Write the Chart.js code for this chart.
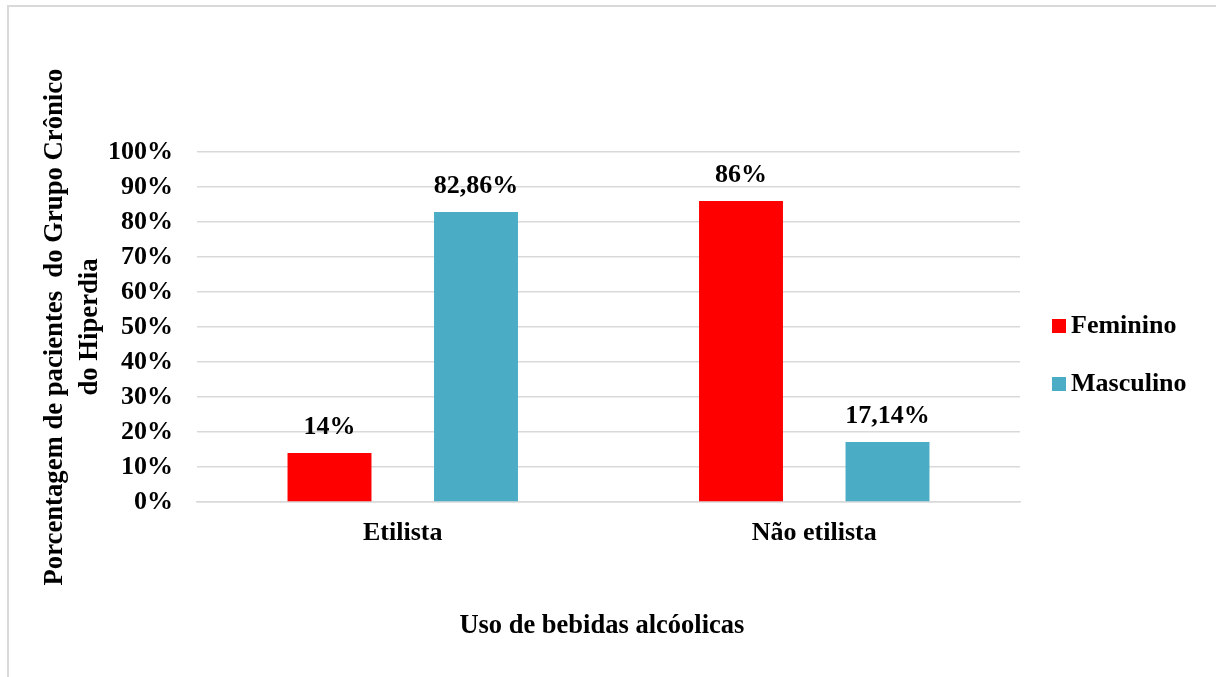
<!DOCTYPE html>
<html>
<head>
<meta charset="utf-8">
<script src="https://cdn.jsdelivr.net/npm/chart.js@4.4.1/dist/chart.umd.min.js"></script>
<style>
  html, body { margin: 0; padding: 0; background: #fff; overflow: hidden; }
  #frame { position: absolute; left: 7px; top: 5px; width: 1400px; height: 900px; border: 2px solid #d9d9d9; box-sizing: border-box; }
  #wrap { position: absolute; left: 0; top: 0; width: 1216px; height: 677px; }
</style>
</head>
<body>
<div id="frame"></div>
<div id="wrap"><canvas id="c" width="1216" height="677"></canvas></div>
<script>
// Categories, series and axis ticks
const categories = ['Etilista', 'Não etilista'];
const feminino = [14, 86];
const masculino = [82.86, 17.14];
const yTicks = [0, 10, 20, 30, 40, 50, 60, 70, 80, 90, 100];
const seriesNames = ['Feminino', 'Masculino'];
const seriesColors = ['#ff0000', '#4bacc6'];
const yTitle = ['Porcentagem de pacientes  do Grupo Crônico', 'do Hiperdia'];
const xTitle = 'Uso de bebidas alcóolicas  ';

const FONT = "'Liberation Serif', 'Times New Roman', serif";
const fmt = v => String(v).replace('.', ',') + '%';

// value labels above each bar
const valueLabels = {
  id: 'valueLabels',
  afterDatasetsDraw(chart) {
    const ctx = chart.ctx;
    ctx.save();
    ctx.font = 'bold 26px ' + FONT;
    ctx.fillStyle = '#000';
    ctx.textAlign = 'center';
    ctx.textBaseline = 'middle';
    chart.data.datasets.forEach((ds, i) => {
      chart.getDatasetMeta(i).data.forEach((bar, j) => {
        ctx.fillText(fmt(ds.data[j]), bar.x, bar.y - 26);
      });
    });
    ctx.restore();
  }
};

// legend on the right side
const sideLegend = {
  id: 'sideLegend',
  afterDraw(chart) {
    const ctx = chart.ctx;
    ctx.save();
    ctx.font = 'bold 26px ' + FONT;
    ctx.textBaseline = 'middle';
    ctx.textAlign = 'left';
    const x0 = chart.chartArea.right + 32;
    const ys = [326, 384];
    chart.data.datasets.forEach((ds, i) => {
      ctx.fillStyle = ds.backgroundColor;
      ctx.fillRect(x0, ys[i] - 7, 14, 14);
      ctx.fillStyle = '#000';
      ctx.fillText(ds.label, x0 + 19, ys[i]);
    });
    ctx.restore();
  }
};

new Chart(document.getElementById('c'), {
  type: 'bar',
  data: {
    labels: categories,
    datasets: [
      { label: seriesNames[0], data: feminino, backgroundColor: seriesColors[0] },
      { label: seriesNames[1], data: masculino, backgroundColor: seriesColors[1] }
    ]
  },
  options: {
    responsive: false,
    animation: false,
    devicePixelRatio: 1,
    categoryPercentage: 0.712,
    barPercentage: 0.573,
    layout: { padding: { top: 152, right: 196, bottom: 0, left: 0 } },
    plugins: {
      legend: { display: false },
      tooltip: { enabled: false }
    },
    scales: {
      x: {
        grid: { display: false, drawTicks: false },
        border: { display: true, color: '#d9d9d9', width: 1.5 },
        ticks: { color: '#000', font: { family: FONT, size: 26, weight: 'bold' }, padding: 16 },
        title: {
          display: true, text: xTitle, color: '#000',
          font: { family: FONT, size: 26.5, weight: 'bold', lineHeight: 1.2 },
          padding: { top: 0, bottom: 35 }
        },
        afterFit(s) { s.height = 175; }
      },
      y: {
        min: 0, max: 100,
        afterBuildTicks(s) { s.ticks = yTicks.map(v => ({ value: v })); },
        grid: { color: '#d9d9d9', lineWidth: 1.5, drawTicks: false },
        border: { display: false },
        ticks: {
          color: '#000', padding: 24,
          font: { family: FONT, size: 26, weight: 'bold' },
          callback: v => v + '%'
        },
        title: {
          display: true, text: yTitle, color: '#000',
          font: { family: FONT, size: 26.7, weight: 'bold', lineHeight: 1.3 },
          padding: { top: 38, bottom: 0 }
        },
        afterFit(s) { s.width = 197; }
      }
    }
  },
  plugins: [valueLabels, sideLegend]
});
</script>
</body>
</html>
